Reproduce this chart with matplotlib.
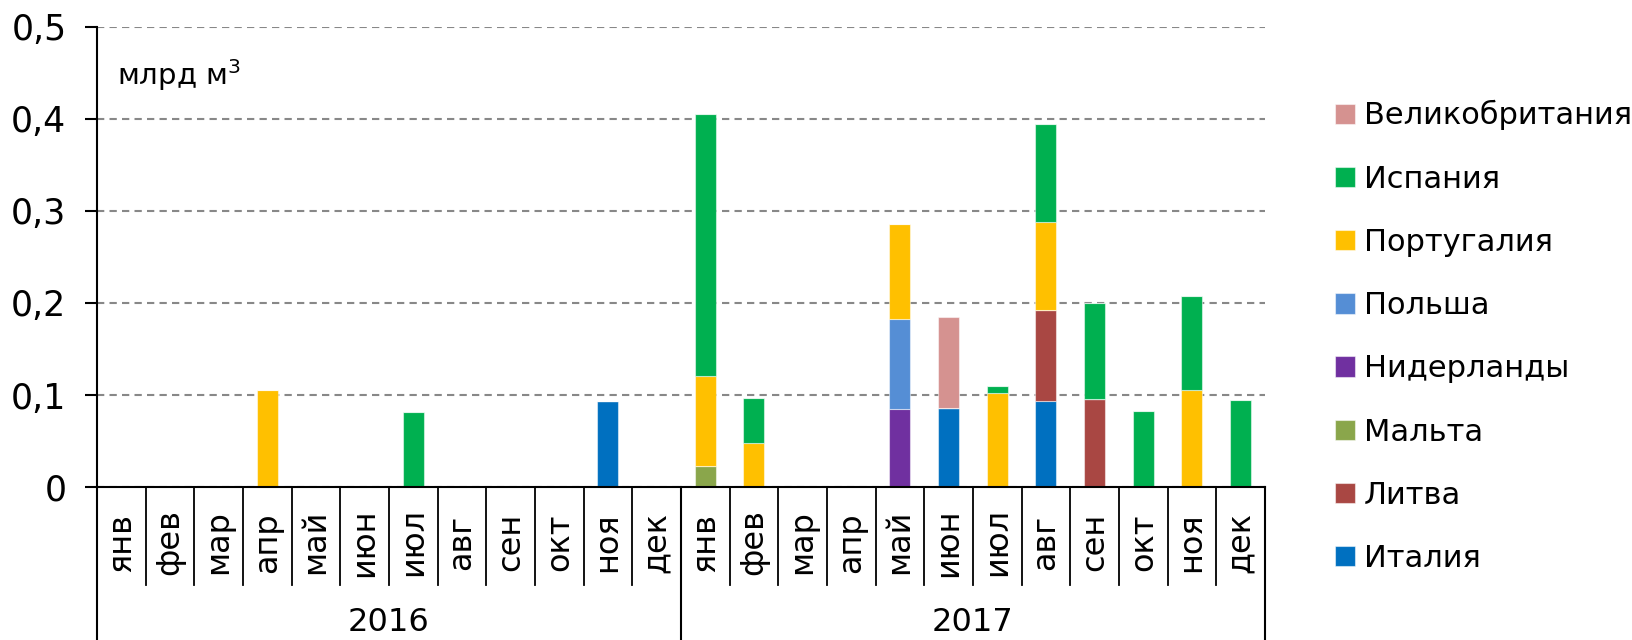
import matplotlib
matplotlib.use("Agg")
import matplotlib.pyplot as plt
import numpy as np

# Meses y años
meses = ['янв', 'фев', 'мар', 'апр', 'май', 'июн', 'июл', 'авг', 'сен', 'окт', 'ноя', 'дек']
anos = ['2016', '2017']

# Valores (млрд м3), 24 meses: 2016 + 2017
italia         = [0, 0, 0, 0, 0, 0, 0, 0, 0, 0, 0.093, 0,   0, 0, 0, 0, 0, 0.086, 0, 0.094, 0, 0, 0, 0]
litva          = [0, 0, 0, 0, 0, 0, 0, 0, 0, 0, 0, 0,       0, 0, 0, 0, 0, 0, 0, 0.098, 0.096, 0, 0, 0]
malta          = [0, 0, 0, 0, 0, 0, 0, 0, 0, 0, 0, 0,       0.023, 0, 0, 0, 0, 0, 0, 0, 0, 0, 0, 0]
niderlandy     = [0, 0, 0, 0, 0, 0, 0, 0, 0, 0, 0, 0,       0, 0, 0, 0, 0.085, 0, 0, 0, 0, 0, 0, 0]
polsha         = [0, 0, 0, 0, 0, 0, 0, 0, 0, 0, 0, 0,       0, 0, 0, 0, 0.098, 0, 0, 0, 0, 0, 0, 0]
portugalia     = [0, 0, 0, 0.105, 0, 0, 0, 0, 0, 0, 0, 0,   0.098, 0.048, 0, 0, 0.103, 0, 0.102, 0.096, 0, 0, 0.105, 0]
ispania        = [0, 0, 0, 0, 0, 0, 0.082, 0, 0, 0, 0, 0,   0.284, 0.049, 0, 0, 0, 0, 0.008, 0.106, 0.104, 0.083, 0.103, 0.095]
velikobritania = [0, 0, 0, 0, 0, 0, 0, 0, 0, 0, 0, 0,       0, 0, 0, 0, 0, 0.099, 0, 0, 0, 0, 0, 0]

paises = ['Италия', 'Литва', 'Мальта', 'Нидерланды', 'Польша', 'Португалия', 'Испания', 'Великобритания']
series = [italia, litva, malta, niderlandy, polsha, portugalia, ispania, velikobritania]
colores = ['#0070C0', '#A94743', '#8AA64B', '#7030A0', '#558ED5', '#FFC000', '#00B050', '#D59290']

plt.rcParams['font.family'] = ['DejaVu Sans']

fig = plt.figure(figsize=(16.32, 6.4), dpi=100)
ax = fig.add_axes([0.0594, 0.239, 0.7157, 0.719])

x = np.arange(24)
base = np.zeros(24)
barras = []
for nombre, vals, col in zip(paises, series, colores):
    vals = np.array(vals)
    b = ax.bar(x, vals, 0.43, bottom=base, color=col, label=nombre,
               edgecolor=(1, 1, 1, 0.5), linewidth=0.8, zorder=3)
    barras.append(b)
    base = base + vals

# Ejes
ax.set_xlim(-0.5, 23.5)
ax.set_ylim(0, 0.5)
ax.set_yticks([0, 0.1, 0.2, 0.3, 0.4, 0.5])
ax.set_yticklabels(['0', '0,1', '0,2', '0,3', '0,4', '0,5'])
ax.tick_params(axis='y', direction='out', length=9, width=1.5, labelsize=25, pad=13)
ax.set_xticks([])
ax.grid(axis='y', color='#888888', linewidth=1.5, linestyle=(0, (3.5, 2.5)), zorder=0)

for s in ['top', 'right']:
    ax.spines[s].set_visible(False)
ax.spines['left'].set_linewidth(1.5)
ax.spines['bottom'].set_linewidth(1.5)
ax.spines['bottom'].set_zorder(5)

# Etiquetas de meses y separadores
tr = ax.get_xaxis_transform()
for i in range(24):
    ax.text(i, -0.12, meses[i % 12], transform=tr, rotation=90,
            ha='center', va='center', fontsize=23)
for i in range(23):
    if i == 11:
        continue
    ax.plot([i + 0.5, i + 0.5], [0, -0.212], transform=tr, color='black',
            linewidth=1.3, clip_on=False)
for xs in [-0.5, 11.5, 23.5]:
    ax.plot([xs, xs], [0, -0.4], transform=tr, color='black',
            linewidth=1.5, clip_on=False)
for j, a in enumerate(anos):
    ax.text(5.5 + 12 * j, -0.295, a, transform=tr, ha='center', va='center', fontsize=23)

ax.text(0.017, 0.896, 'млрд м$^3$', transform=ax.transAxes, fontsize=21, va='center')

# Leyenda (orden inverso)
ax.legend(barras[::-1], paises[::-1], loc='upper left', bbox_to_anchor=(0.818, 0.8435),
          bbox_transform=fig.transFigure, frameon=False, fontsize=22,
          handlelength=0.65, handleheight=0.65, handletextpad=0.3,
          labelspacing=1.12, borderpad=0, borderaxespad=0)

plt.savefig('out.png', dpi=100)
